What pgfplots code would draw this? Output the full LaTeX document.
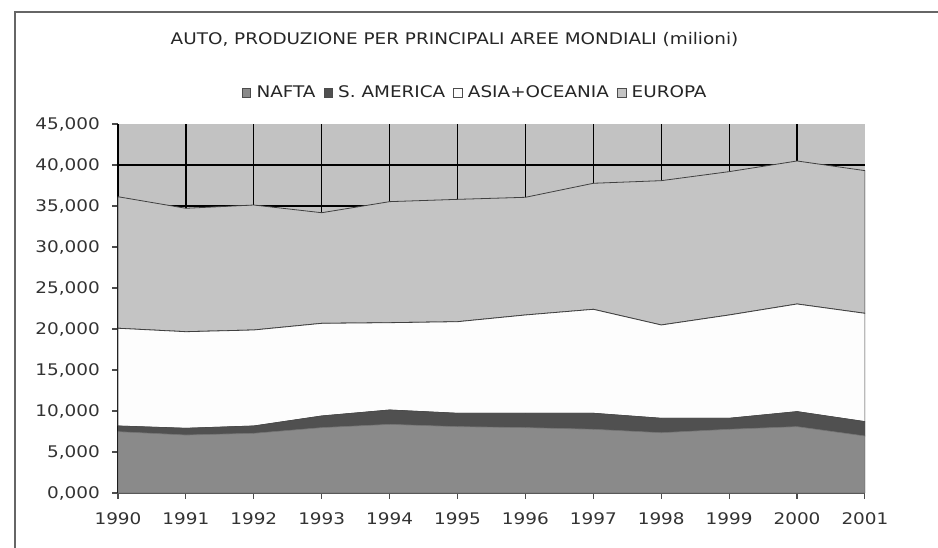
\documentclass[border=0pt]{standalone}
\usepackage{fontspec}
\setmainfont[FakeStretch=1.15]{DejaVu Sans}
\usepackage{pgfplots}
\pgfplotsset{compat=1.18}
\definecolor{cNafta}{HTML}{8A8A8A}
\definecolor{cSam}{HTML}{505050}
\definecolor{cAsia}{HTML}{FDFDFD}
\definecolor{cEur}{HTML}{C4C4C4}
\definecolor{cBg}{HTML}{C2C2C2}
\begin{document}
\begin{tikzpicture}
\useasboundingbox (0,0) rectangle (703.5pt,411pt);
\begin{scope}
\clip (0,0) rectangle (703.5pt,411pt);
\fill[white] (0,0) rectangle (703.5pt,411pt);
\draw[black!60, line width=1.3pt] (11.25pt,-20pt) -- (11.25pt,402pt) -- (730pt,402pt);
\end{scope}
\begin{axis}[
  at={(88.5pt,41.25pt)}, anchor=south west,
  scale only axis, width=560.25pt, height=276.75pt,
  xmin=1990, xmax=2001, ymin=0, ymax=45000,
  stack plots=y,
  scaled y ticks=false, scaled x ticks=false,
  axis background/.style={fill=cBg},
  xtick={1990,...,2001},
  xticklabels={1990,1991,1992,1993,1994,1995,1996,1997,1998,1999,2000,2001},
  ytick={0,5000,...,45000},
  yticklabels={{0,000},{5,000},{10,000},{15,000},{20,000},{25,000},{30,000},{35,000},{40,000},{45,000}},
  extra x ticks={1990,1991,...,2000},
  extra x tick labels={},
  extra x tick style={grid=major, major tick length=0pt},
  extra y ticks={5000,10000,...,40000},
  extra y tick labels={},
  extra y tick style={grid=major, major tick length=0pt},
  /pgf/number format/assume math mode=true,
  tick label style={font=\fontsize{12pt}{14pt}\selectfont, text=black!80},
  yticklabel style={inner sep=0pt, xshift=-9pt},
  xticklabel style={inner sep=0pt, yshift=-10pt},
  tick align=outside, major tick length=4.5pt,
  tick style={black!70, line width=0.8pt},
  grid style={black, line width=0.9pt},
  axis x line*=bottom, axis y line*=left,
  axis line style={black!65, line width=0.9pt},
  x axis line style={-}, y axis line style={-},
  title={AUTO, PRODUZIONE PER PRINCIPALI AREE MONDIALI (milioni)},
  title style={at={(0.4505,1.195)}, anchor=base, inner sep=0pt, font=\fontsize{12pt}{14pt}\selectfont, text=black!85},
  legend style={at={(0.4786,1.084)}, anchor=center, draw=none, fill=none,
    legend columns=4, font=\fontsize{12pt}{14pt}\selectfont, text=black!85,
    /tikz/every odd column/.append style={column sep=2pt},
    /tikz/every even column/.append style={column sep=4pt}},
  legend image code/.code={\draw[#1, draw=black!70, line width=0.6pt] (0pt,-3.2pt) rectangle (6.4pt,3.2pt);},
]
\addplot[fill=cNafta, draw=black!55, line width=0.5pt] coordinates {
 (1990,7480) (1991,7070) (1992,7280) (1993,7970) (1994,8370) (1995,8090)
 (1996,7970) (1997,7770) (1998,7350) (1999,7770) (2000,8090) (2001,6950)} \closedcycle;
\addlegendentry{NAFTA}
\addplot[fill=cSam, draw=black!70, line width=0.5pt] coordinates {
 (1990,690) (1991,820) (1992,890) (1993,1420) (1994,1750) (1995,1630)
 (1996,1750) (1997,1950) (1998,1760) (1999,1340) (2000,1830) (2001,1750)} \closedcycle;
\addlegendentry{S. AMERICA}
\addplot[fill=cAsia, draw=black!75, line width=0.6pt] coordinates {
 (1990,11920) (1991,11780) (1992,11710) (1993,11300) (1994,10650) (1995,11170)
 (1996,11990) (1997,12680) (1998,11380) (1999,12600) (2000,13130) (2001,13210)} \closedcycle;
\addlegendentry{ASIA+OCEANIA}
\addplot[fill=cEur, draw=black!75, line width=0.6pt] coordinates {
 (1990,16040) (1991,15050) (1992,15240) (1993,13490) (1994,14760) (1995,14920)
 (1996,14350) (1997,15370) (1998,17600) (1999,17480) (2000,17440) (2001,17400)} \closedcycle;
\addlegendentry{EUROPA}
\end{axis}
\end{tikzpicture}
\end{document}
